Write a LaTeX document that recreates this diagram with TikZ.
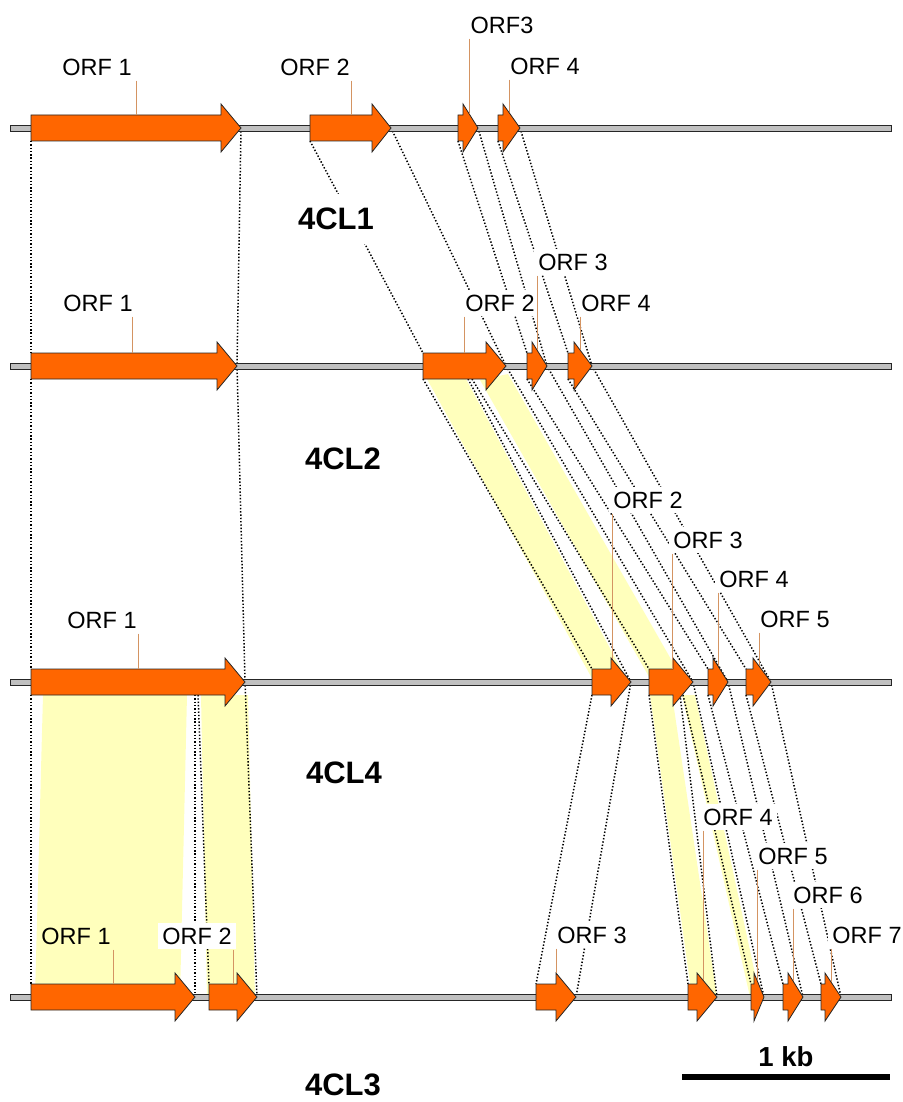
\documentclass[tikz,border=0pt]{standalone}
\usepackage{fontspec}
\setmainfont{Liberation Sans}

\definecolor{orforange}{RGB}{255,102,0}
\definecolor{backbone}{RGB}{192,192,192}
\definecolor{homology}{RGB}{255,255,188}
\definecolor{tickbrown}{RGB}{212,148,98}

\pgfdeclarelayer{bands}
\pgfdeclarelayer{links}
\pgfsetlayers{bands,links,main}

\tikzset{
	orfbody/.style={fill=orforange, draw=black!85, line width=0.8pt, line join=miter},
	chrom/.style={fill=backbone, draw=black!85, line width=0.9pt},
	link/.style={line width=1.5pt, dash pattern=on 1.4pt off 1.9pt},
	band/.style={fill=homology},
	orflabel/.style={fill=white, inner xsep=4pt, inner ysep=5pt, font=\fontsize{23.5}{27}\selectfont},
	orftick/.style={draw=tickbrown, line width=0.8pt},
	locus/.style={fill=white, inner xsep=4pt, inner ysep=14pt, font=\bfseries\fontsize{31}{36}\selectfont},
}

% #1 name, #2 track y, #3 start, #4 head, #5 tip
\newcommand{\orfarrow}[5]{%
	\draw[orfbody] (#3,#2-13) -- (#4,#2-13) -- (#4,#2-24) -- (#5,#2) -- (#4,#2+24) -- (#4,#2+13) -- (#3,#2+13) -- cycle;
	\coordinate (#1-tl) at (#3,#2-13);
	\coordinate (#1-bl) at (#3,#2+13);
	\coordinate (#1-tip) at (#5,#2);
}

\begin{document}
\begin{tikzpicture}[x=1pt,y=-1pt]
	\useasboundingbox (0,0) rectangle (902,1102);

	% chromosome backbones
	\draw[chrom] (10,125) rectangle (891,131);
	\draw[chrom] (10,363) rectangle (891,369);
	\draw[chrom] (10,679) rectangle (891,685);
	\draw[chrom] (10,994) rectangle (891,1000);

	% 4CL1
	\orfarrow{a1}{128}{31}{221}{241}
	\orfarrow{a2}{128}{310}{372}{391}
	\orfarrow{a3}{128}{458}{463}{478}
	\orfarrow{a4}{128}{498}{503}{520}

	% 4CL2
	\orfarrow{b1}{366}{31}{217}{237}
	\orfarrow{b2}{366}{423}{486}{506}
	\orfarrow{b3}{366}{527}{532}{547}
	\orfarrow{b4}{366}{568}{574}{592}

	% 4CL4
	\orfarrow{c1}{682}{31}{225}{245}
	\orfarrow{c2}{682}{592}{611}{631}
	\orfarrow{c3}{682}{649}{673}{693}
	\orfarrow{c4}{682}{708}{713}{728}
	\orfarrow{c5}{682}{746}{753}{771}

	% 4CL3
	\orfarrow{d1}{997}{31}{175}{195}
	\orfarrow{d2}{997}{209}{237}{257}
	\orfarrow{d3}{997}{536}{556}{576}
	\orfarrow{d4}{997}{688}{697}{717}
	\orfarrow{d5}{997}{751}{754}{764}
	\orfarrow{d6}{997}{783}{788}{803}
	\orfarrow{d7}{997}{821}{825}{841}

	% split points inside fused ORFs
	\coordinate (b2-s1) at (468,379);
	\coordinate (b2-s2) at (472,379);
	\coordinate (c1-s1) at (195,695);
	\coordinate (c1-s2) at (198,695);
	\coordinate (c3-s1) at (680,695);
	\coordinate (c3-s2) at (683,695);

	\begin{pgfonlayer}{bands}
		\fill[band] (427,379) -- (466,379) -- (628,682) -- (594,682) -- cycle;
		\fill[band] (480,380) -- (508,374) -- (684,682) -- (652,682) -- cycle;
		\fill[band] (43,695) -- (187,695) -- (180,997) -- (35,997) -- cycle;
		\fill[band] (201,695) -- (248,695) -- (255,997) -- (207,997) -- cycle;
		\fill[band] (650,695) -- (672,695) -- (717,997) -- (692,997) -- cycle;
		\fill[band] (682,695) -- (695,695) -- (760,997) -- (750,997) -- cycle;
	\end{pgfonlayer}

	\begin{pgfonlayer}{links}
		\draw[link] (a1-bl) -- (b1-tl);
		\draw[link] (a1-tip) -- (b1-tip);
		\draw[link] (a2-bl) -- (b2-tl);
		\draw[link] (a2-tip) -- (b2-tip);
		\draw[link] (a3-bl) -- (b3-tl);
		\draw[link] (a3-tip) -- (b3-tip);
		\draw[link] (a4-bl) -- (b4-tl);
		\draw[link] (a4-tip) -- (b4-tip);

		\draw[link] (b1-bl) -- (c1-tl);
		\draw[link] (b1-tip) -- (c1-tip);
		\draw[link] (b2-bl) -- (c2-tl);
		\draw[link] (b2-s1) -- (c2-tip);
		\draw[link] (b2-s2) -- (c3-tl);
		\draw[link] (b2-tip) -- (c3-tip);
		\draw[link] (b3-bl) -- (c4-tl);
		\draw[link] (b3-tip) -- (c4-tip);
		\draw[link] (b4-bl) -- (c5-tl);
		\draw[link] (b4-tip) -- (c5-tip);

		\draw[link] (c1-bl) -- (d1-tl);
		\draw[link] (c1-s1) -- (d1-tip);
		\draw[link] (c1-s2) -- (d2-tl);
		\draw[link] (c1-tip) -- (d2-tip);
		\draw[link] (c2-bl) -- (d3-tl);
		\draw[link] (c2-tip) -- (d3-tip);
		\draw[link] (c3-bl) -- (d4-tl);
		\draw[link] (c3-s1) -- (d4-tip);
		\draw[link] (c3-s2) -- (d5-tl);
		\draw[link] (c3-tip) -- (d5-tip);
		\draw[link] (c4-bl) -- (d6-tl);
		\draw[link] (c4-tip) -- (d6-tip);
		\draw[link] (c5-bl) -- (d7-tl);
		\draw[link] (c5-tip) -- (d7-tip);
	\end{pgfonlayer}

	% locus names
	\node[locus] (n4cl1) at (336,219) {4CL1};
	\node[locus] (n4cl2) at (343,459) {4CL2};
	\node[locus] (n4cl4) at (344,773) {4CL4};
	\node[locus] (n4cl3) at (343,1085) {4CL3};

	% ORF labels and leaders
	\node[orflabel] (a1-lbl) at (97,67) {ORF 1};
	\draw[orftick] (a1-lbl.south -| 136,0) -- (136,115);
	\node[orflabel] (a2-lbl) at (315,67) {ORF 2};
	\draw[orftick] (a2-lbl.south -| 351,0) -- (351,115);
	\node[orflabel] (a3-lbl) at (502,25) {ORF3};
	\draw[orftick] (a3-lbl.south -| 469,0) -- (469,114);
	\node[orflabel] (a4-lbl) at (545,66) {ORF 4};
	\draw[orftick] (a4-lbl.south -| 509,0) -- (509,112);

	\node[orflabel] (b1-lbl) at (98,303) {ORF 1};
	\draw[orftick] (b1-lbl.south -| 132,0) -- (132,353);
	\node[orflabel] (b2-lbl) at (500,303) {ORF 2};
	\draw[orftick] (b2-lbl.south -| 464,0) -- (464,353);
	\node[orflabel] (b3-lbl) at (573,262) {ORF 3};
	\draw[orftick] (b3-lbl.south -| 537,0) -- (537,350);
	\node[orflabel] (b4-lbl) at (616,303) {ORF 4};
	\draw[orftick] (b4-lbl.south -| 580,0) -- (580,350);

	\node[orflabel] (c1-lbl) at (102,620) {ORF 1};
	\draw[orftick] (c1-lbl.south -| 138,0) -- (138,669);
	\node[orflabel] (c2-lbl) at (648,500) {ORF 2};
	\draw[orftick] (c2-lbl.south -| 612,0) -- (612,659);
	\node[orflabel] (c3-lbl) at (708,540) {ORF 3};
	\draw[orftick] (c3-lbl.south -| 672,0) -- (672,669);
	\node[orflabel] (c4-lbl) at (754,579) {ORF 4};
	\draw[orftick] (c4-lbl.south -| 718,0) -- (718,666);
	\node[orflabel] (c5-lbl) at (795,619) {ORF 5};
	\draw[orftick] (c5-lbl.south -| 759,0) -- (759,666);

	\node[orflabel, fill=none] (d1-lbl) at (76,936) {ORF 1};
	\draw[orftick] (d1-lbl.south -| 113,0) -- (113,984);
	\node[orflabel] (d2-lbl) at (197,936) {ORF 2};
	\draw[orftick] (d2-lbl.south -| 233,0) -- (233,984);
	\node[orflabel] (d3-lbl) at (592,935) {ORF 3};
	\draw[orftick] (d3-lbl.south -| 556,0) -- (556,973);
	\node[orflabel] (d4-lbl) at (738,817) {ORF 4};
	\draw[orftick] (d4-lbl.south -| 703,0) -- (703,980);
	\node[orflabel] (d5-lbl) at (793,856) {ORF 5};
	\draw[orftick] (d5-lbl.south -| 757,0) -- (757,980);
	\node[orflabel] (d6-lbl) at (828,895) {ORF 6};
	\draw[orftick] (d6-lbl.south -| 793,0) -- (793,981);
	\node[orflabel] (d7-lbl) at (867,935) {ORF 7};
	\draw[orftick] (d7-lbl.south -| 831,0) -- (831,982);

	% scale bar
	\fill (682,1074) rectangle (890,1080);
	\node[font=\bfseries\fontsize{27.5}{32}\selectfont] (kb) at (786,1057) {1 kb};
\end{tikzpicture}
\end{document}
